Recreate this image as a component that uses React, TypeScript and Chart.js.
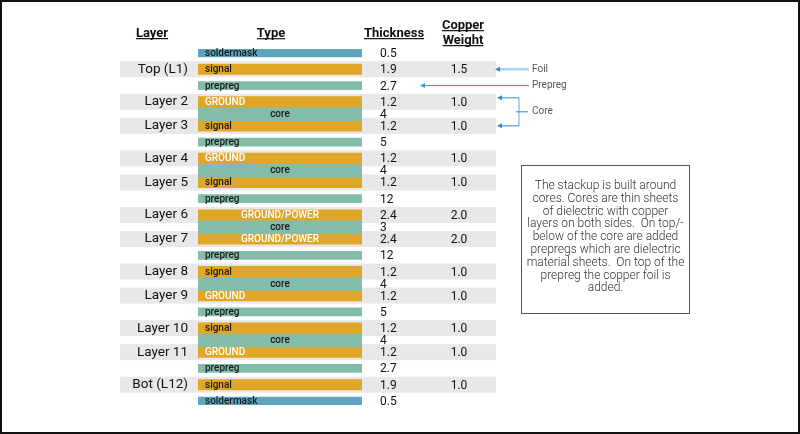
import React, { useEffect, useRef } from 'react';
import { Chart, registerables } from 'chart.js';

Chart.register(...registerables);

// ---------------- data ----------------
const layerNames = ['', 'Top (L1)', '', 'Layer 2', '', 'Layer 3', '', 'Layer 4', '', 'Layer 5', '', 'Layer 6', '', 'Layer 7', '', 'Layer 8', '', 'Layer 9', '', 'Layer 10', '', 'Layer 11', '', 'Bot (L12)', ''];
const typeLabels = ['soldermask', 'signal', 'prepreg', 'GROUND', 'core', 'signal', 'prepreg', 'GROUND', 'core', 'signal', 'prepreg', 'GROUND/POWER', 'core', 'GROUND/POWER', 'prepreg', 'signal', 'core', 'GROUND', 'prepreg', 'signal', 'core', 'GROUND', 'prepreg', 'signal', 'soldermask'];
const materials = ['mask', 'copper', 'prepreg', 'copper', 'core', 'copper', 'prepreg', 'copper', 'core', 'copper', 'prepreg', 'copper', 'core', 'copper', 'prepreg', 'copper', 'core', 'copper', 'prepreg', 'copper', 'core', 'copper', 'prepreg', 'copper', 'mask'];
const thickness = [0.5, 1.9, 2.7, 1.2, 4, 1.2, 5, 1.2, 4, 1.2, 12, 2.4, 3, 2.4, 12, 1.2, 4, 1.2, 5, 1.2, 4, 1.2, 2.7, 1.9, 0.5];
const copperWeight = [null, 1.5, null, 1.0, null, 1.0, null, 1.0, null, 1.0, null, 2.0, null, 2.0, null, 1.0, null, 1.0, null, 1.0, null, 1.0, null, 1.0, null];
const columnHeaders = ['Layer', 'Type', 'Thickness', 'Copper', 'Weight'];
const callouts = ['Foil', 'Prepreg', 'Core'];
const noteLines = [
  'The stackup is built around',
  'cores. Cores are thin sheets',
  'of dielectric with copper',
  'layers on both sides.  On top/-',
  'below of the core are added',
  'prepregs which are dielectric',
  'material sheets.  On top of the',
  'prepreg the copper foil is',
  'added.',
];

// ---------------- styles / layout ----------------
const COLORS: Record<string, string> = { mask: '#5fa5c0', copper: '#e0a628', prepreg: '#83bca8', core: '#83bca8' };
const ROW_H: Record<string, number> = { mask: 8, copper: 10.5, prepreg: 8, core: 13.5 };
const GAP = 7;
const FONT = 'Roboto, "Noto Sans", sans-serif';
const W = 800;
const H = 434;

function buildRanges() {
  const ranges: [number, number][] = [];
  let pos = 0;
  materials.forEach((m, i) => {
    if (i > 0 && m !== 'core' && materials[i - 1] !== 'core') pos += GAP;
    const start = pos;
    pos += ROW_H[m];
    ranges.push([start, pos]);
  });
  return { ranges, total: pos };
}

function arrowLeft(ctx: CanvasRenderingContext2D, x: number, y: number, color: string) {
  ctx.fillStyle = color;
  ctx.beginPath();
  ctx.moveTo(x, y);
  ctx.lineTo(x + 5, y - 2.5);
  ctx.lineTo(x + 5, y + 2.5);
  ctx.closePath();
  ctx.fill();
}

function rowCenter(chart: any, i: number) {
  const el = chart.getDatasetMeta(i).data[0];
  return (el.y + el.base) / 2;
}

const stackupPlugin = {
  id: 'stackup',
  beforeDraw(chart: any) {
    const ctx = chart.ctx;
    ctx.save();
    ctx.fillStyle = '#ffffff';
    ctx.fillRect(0, 0, chart.width, chart.height);
    ctx.restore();
  },
  beforeDatasetsDraw(chart: any) {
    const ctx = chart.ctx;
    const area = chart.chartArea;
    ctx.save();
    ctx.fillStyle = '#e8e8e8';
    layerNames.forEach((name, i) => {
      if (!name) return;
      const cy = rowCenter(chart, i);
      ctx.fillRect(area.left - 78, cy - 8, (area.right + 134) - (area.left - 78), 16);
    });
    ctx.restore();
  },
  afterDatasetsDraw(chart: any) {
    const ctx: CanvasRenderingContext2D = chart.ctx;
    const area = chart.chartArea;
    ctx.save();
    ctx.textBaseline = 'middle';

    // labels inside bars
    typeLabels.forEach((label, i) => {
      const el = chart.getDatasetMeta(i).data[0];
      const cy = (el.y + el.base) / 2;
      const left = el.x - el.width / 2;
      const plane = label.startsWith('GROUND');
      const centered = label === 'core' || label === 'GROUND/POWER';
      ctx.font = `500 10px ${FONT}`;
      ctx.fillStyle = plane ? '#ffffff' : '#1a1a1a';
      ctx.textAlign = centered ? 'center' : 'left';
      ctx.fillText(label, centered ? el.x : left + 7, cy + 0.5);
    });

    // layer names
    ctx.font = `13.5px ${FONT}`;
    ctx.fillStyle = '#111111';
    ctx.textAlign = 'right';
    layerNames.forEach((name, i) => {
      if (!name) return;
      ctx.fillText(name, area.left - 10, rowCenter(chart, i));
    });

    // thickness / copper weight
    ctx.font = `12px ${FONT}`;
    thickness.forEach((t, i) => {
      ctx.textAlign = 'left';
      ctx.fillText(String(t), area.right + 18, rowCenter(chart, i) + 1);
      const cw = copperWeight[i];
      if (cw !== null) {
        ctx.textAlign = 'center';
        ctx.fillText(cw.toFixed(1), area.right + 97, rowCenter(chart, i) + 1);
      }
    });

    // headers
    ctx.font = `bold 13px ${FONT}`;
    ctx.textBaseline = 'alphabetic';
    ctx.textAlign = 'center';
    const hdr = [
      { t: columnHeaders[0], x: 152, y: 36.5 },
      { t: columnHeaders[1], x: 271, y: 36.5 },
      { t: columnHeaders[2], x: 394, y: 36.5 },
      { t: columnHeaders[3], x: 463, y: 28.5 },
      { t: columnHeaders[4], x: 463, y: 43.5 },
    ];
    ctx.strokeStyle = '#1a1a1a';
    ctx.lineWidth = 1.2;
    hdr.forEach((h) => {
      ctx.fillText(h.t, h.x, h.y);
      const w = ctx.measureText(h.t).width;
      ctx.beginPath();
      ctx.moveTo(h.x - w / 2, h.y + 2.2);
      ctx.lineTo(h.x + w / 2, h.y + 2.2);
      ctx.stroke();
    });

    // callouts
    const dark = '#2a8ccb';
    const light = '#a8d6ec';
    const bandRight = area.right + 134;
    const yFoil = rowCenter(chart, 1);
    const yPre = rowCenter(chart, 2);
    const yC1 = rowCenter(chart, 3) - 4;
    const yC2 = rowCenter(chart, 5);
    const txtX = 532;
    // foil
    ctx.strokeStyle = light;
    ctx.lineWidth = 2.5;
    ctx.beginPath();
    ctx.moveTo(bandRight + 3, yFoil);
    ctx.lineTo(529, yFoil);
    ctx.stroke();
    arrowLeft(ctx, bandRight - 1, yFoil, dark);
    // prepreg
    ctx.strokeStyle = '#3a9ad6';
    ctx.lineWidth = 1;
    ctx.beginPath();
    ctx.moveTo(424, yPre);
    ctx.lineTo(529, yPre);
    ctx.stroke();
    arrowLeft(ctx, 420, yPre, '#3a9ad6');
    // core bracket
    ctx.strokeStyle = light;
    ctx.lineWidth = 2;
    ctx.beginPath();
    ctx.moveTo(519, yC1);
    ctx.lineTo(519, yC2);
    ctx.stroke();
    ctx.strokeStyle = dark;
    ctx.lineWidth = 1;
    ctx.beginPath();
    ctx.moveTo(bandRight + 3, yC1);
    ctx.lineTo(519, yC1);
    ctx.moveTo(bandRight + 3, yC2);
    ctx.lineTo(519, yC2);
    ctx.moveTo(516, (yC1 + yC2) / 2);
    ctx.lineTo(528, (yC1 + yC2) / 2);
    ctx.stroke();
    arrowLeft(ctx, bandRight + 1, yC1, dark);
    arrowLeft(ctx, bandRight + 1, yC2, dark);

    ctx.font = `10px ${FONT}`;
    ctx.fillStyle = '#555555';
    ctx.textAlign = 'left';
    ctx.textBaseline = 'middle';
    ctx.fillText(callouts[0], txtX, yFoil);
    ctx.fillText(callouts[1], txtX, yPre);
    ctx.fillText(callouts[2], txtX, (yC1 + yC2) / 2);

    // note box
    ctx.strokeStyle = '#555555';
    ctx.lineWidth = 1;
    ctx.strokeRect(521.5, 165.5, 168, 148);
    ctx.font = `300 12px ${FONT}`;
    ctx.fillStyle = '#333333';
    ctx.textAlign = 'center';
    noteLines.forEach((line, k) => {
      ctx.fillText(line, 605.5, 186 + k * 12.8);
    });

    ctx.restore();
  },
  afterDraw(chart: any) {
    const ctx = chart.ctx;
    ctx.save();
    ctx.strokeStyle = '#111111';
    ctx.lineWidth = 2;
    ctx.strokeRect(1, 1, W - 2, H - 2);
    ctx.restore();
  },
};

export default function App() {
  const canvasRef = useRef<HTMLCanvasElement | null>(null);

  useEffect(() => {
    document.body.style.margin = '0';
    const canvas = canvasRef.current;
    if (!canvas) return;
    const { ranges, total } = buildRanges();
    const datasets = typeLabels.map((label, i) => ({
      label,
      data: [ranges[i]],
      backgroundColor: COLORS[materials[i]],
      borderWidth: 0,
      barThickness: 164,
      grouped: false,
    }));
    const chart = new Chart(canvas, {
      type: 'bar',
      data: { labels: ['stackup'], datasets: datasets as any },
      options: {
        responsive: false,
        animation: false,
        devicePixelRatio: 1,
        events: [],
        layout: { padding: { left: 198, right: W - 362, top: 49, bottom: H - 405 } },
        scales: {
          x: { type: 'category', display: false },
          y: { type: 'linear', display: false, reverse: true, min: 0, max: total },
        },
        plugins: { legend: { display: false }, tooltip: { enabled: false } },
      },
      plugins: [stackupPlugin],
    });
    return () => chart.destroy();
  }, []);

  return (
    <div style={{ width: W, height: H, position: 'relative' }}>
      <canvas ref={canvasRef} width={W} height={H} style={{ display: 'block' }} />
    </div>
  );
}
